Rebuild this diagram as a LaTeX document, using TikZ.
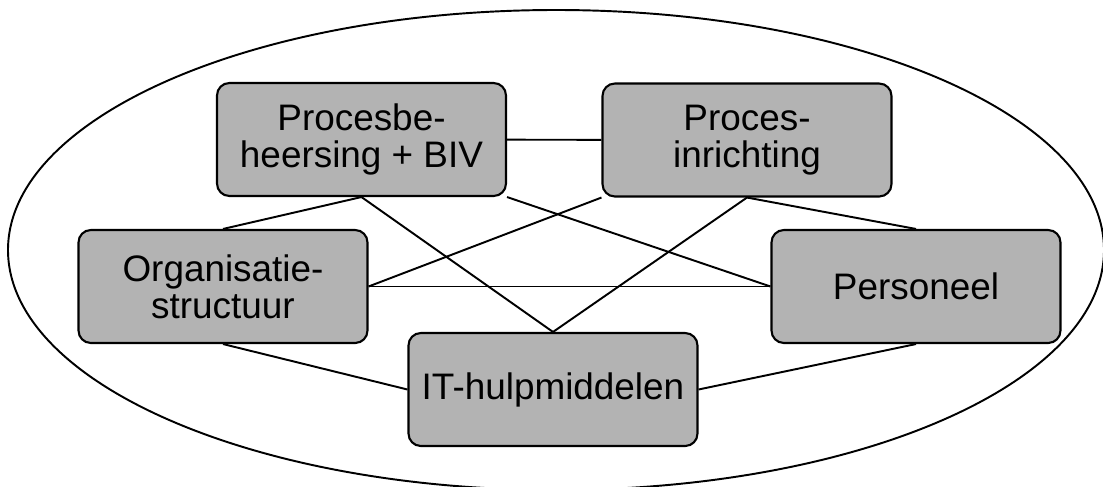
\documentclass[tikz,border=0pt]{standalone}
\usepackage{fontspec}
\setmainfont{Liberation Sans}
\usepackage{tikz}
\usetikzlibrary{positioning}

\definecolor{boxgray}{RGB}{179,179,179}

\begin{document}
\begin{tikzpicture}[
  x=0.02cm, y=-0.02cm,
  box/.style={draw, line width=1.2pt, fill=boxgray, rounded corners=7pt, align=center,
    minimum width=5.78cm, minimum height=2.26cm, inner sep=0pt,
    font=\fontsize{21}{21}\selectfont},
  link/.style={line width=1.1pt}
]
\useasboundingbox (0,0) rectangle (1103,487);
\begin{scope}
  \clip (0,0) rectangle (1103,487);
  \draw[line width=1.1pt] (556,250) ellipse [x radius=548, y radius=240];
\end{scope}
\node[box] (beheer) at (361.5,139.5) {Procesbe-\\heersing + BIV};
\node[box] (inricht) at (747,140) {Proces-\\inrichting};
\node[box] (organ) at (223,286.5) {Organisatie-\\structuur};
\node[box] (pers) at (916,286.5) {Personeel};
\node[box] (ithulp) at (553,389.5) {IT-hulpmiddelen};
\draw[link] (beheer) -- (inricht);
\draw[link] (beheer.south) -- (organ.north);
\draw[link] (beheer.south) -- (ithulp.north);
\draw[link] (beheer.south east) -- (pers.west);
\draw[link] (inricht.south west) -- (organ.east);
\draw[link] (inricht.south) -- (ithulp.north);
\draw[link] (inricht.south) -- (pers.north);
\draw[link] (organ) -- (pers);
\draw[link] (organ.south) -- (ithulp.west);
\draw[link] (pers.south) -- (ithulp.east);
\end{tikzpicture}
\end{document}
